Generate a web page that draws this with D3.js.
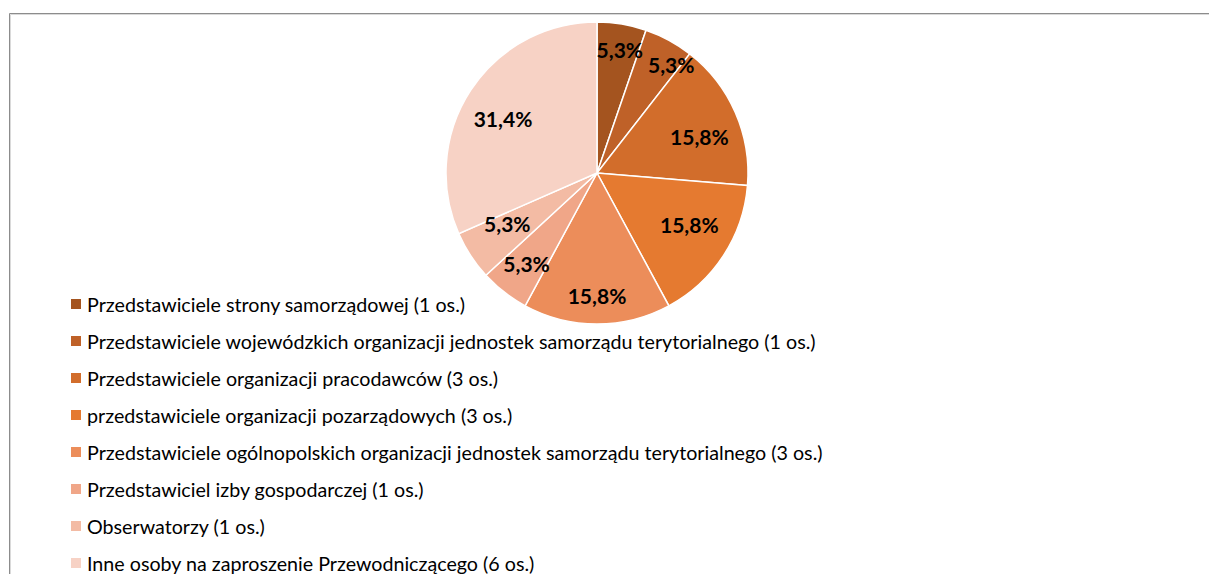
<!DOCTYPE html>
<html>
<head>
<meta charset="utf-8">
<script src="https://cdn.jsdelivr.net/npm/d3@7"></script>
<style>
  body { margin: 0; background: #fff; }
  svg { display: block; }
  .slice-label { font-family: Lato, "Open Sans", sans-serif; font-weight: bold; fill: #000; }
  .legend-text { font-family: Lato, "Open Sans", sans-serif; fill: #000; }
</style>
</head>
<body>
<div id="chart"></div>
<script>
// data
const categories = [
  "Przedstawiciele strony samorządowej (1 os.)",
  "Przedstawiciele wojewódzkich organizacji jednostek samorządu terytorialnego (1 os.)",
  "Przedstawiciele organizacji pracodawców (3 os.)",
  "przedstawiciele organizacji pozarządowych (3 os.)",
  "Przedstawiciele ogólnopolskich organizacji jednostek samorządu terytorialnego (3 os.)",
  "Przedstawiciel izby gospodarczej (1 os.)",
  "Obserwatorzy (1 os.)",
  "Inne osoby na zaproszenie Przewodniczącego (6 os.)"
];
const counts = [1, 1, 3, 3, 3, 1, 1, 6];
const percentLabels = ["5,3%", "5,3%", "15,8%", "15,8%", "15,8%", "5,3%", "5,3%", "31,4%"];
const colors = ["#a4541f", "#bf6128", "#d26d2b", "#e57a30", "#ec8d5a", "#f0a688", "#f3bba4", "#f7d2c5"];

const width = 1209, height = 574;
const cx = 597, cy = 173, radius = 151;

// label placement (fraction of radius, angle nudge in degrees) - mimics excel best fit
const labelRadius = [0.83, 0.87, 0.72, 0.7, 0.81, 0.76, 0.68, 0.72];
const labelNudge = [1, 6, 4, -4, 0, 0, 4, -3];

const svg = d3.select("#chart").append("svg")
  .attr("width", width)
  .attr("height", height);

// frame
svg.append("path")
  .attr("d", `M10.5,${height} V14.5 H${width}`)
  .attr("fill", "none")
  .attr("stroke", "#dadada")
  .attr("stroke-width", 1);
svg.append("path")
  .attr("d", `M9.5,${height} V13.5 H${width}`)
  .attr("fill", "none")
  .attr("stroke", "#8c8c8c")
  .attr("stroke-width", 1);

// pie
const pie = d3.pie().sort(null).value((d) => d);
const arcs = pie(counts);

const arc = d3.arc().innerRadius(0).outerRadius(radius);

const g = svg.append("g").attr("transform", `translate(${cx},${cy})`);

g.selectAll("path.slice")
  .data(arcs)
  .enter()
  .append("path")
  .attr("class", "slice")
  .attr("d", arc)
  .attr("fill", (d, i) => colors[i])
  .attr("stroke", "#fff")
  .attr("stroke-width", 1.5);

// labels
const labelPos = (d, i) => {
  const r = radius * labelRadius[i];
  const a = (d.startAngle + d.endAngle) / 2 + (labelNudge[i] * Math.PI) / 180;
  return [r * Math.sin(a), -r * Math.cos(a)];
};

g.selectAll("text.slice-label")
  .data(arcs)
  .enter()
  .append("text")
  .attr("class", "slice-label")
  .attr("x", (d, i) => labelPos(d, i)[0])
  .attr("y", (d, i) => labelPos(d, i)[1])
  .attr("text-anchor", "middle")
  .attr("dominant-baseline", "central")
  .attr("font-size", 21)
  .text((d, i) => percentLabels[i]);

// legend
const legendY = d3.scalePoint()
  .domain(d3.range(categories.length))
  .range([304, 563]);

const legend = svg.append("g");

legend.selectAll("rect")
  .data(categories)
  .enter()
  .append("rect")
  .attr("x", 71)
  .attr("y", (d, i) => legendY(i) - 5)
  .attr("width", 10)
  .attr("height", 10)
  .attr("fill", (d, i) => colors[i]);

const legendTexts = legend.selectAll("text")
  .data(categories)
  .enter()
  .append("text")
  .attr("class", "legend-text")
  .attr("x", 87)
  .attr("y", (d, i) => legendY(i))
  .attr("dominant-baseline", "central")
  .attr("font-size", 17)
  .text((d) => d);

// fit font size so the longest entry spans like the reference (~736px)
const longest = d3.max(legendTexts.nodes(), (n) => n.getComputedTextLength());
legendTexts.attr("font-size", 17 * 736 / longest);
</script>
</body>
</html>
